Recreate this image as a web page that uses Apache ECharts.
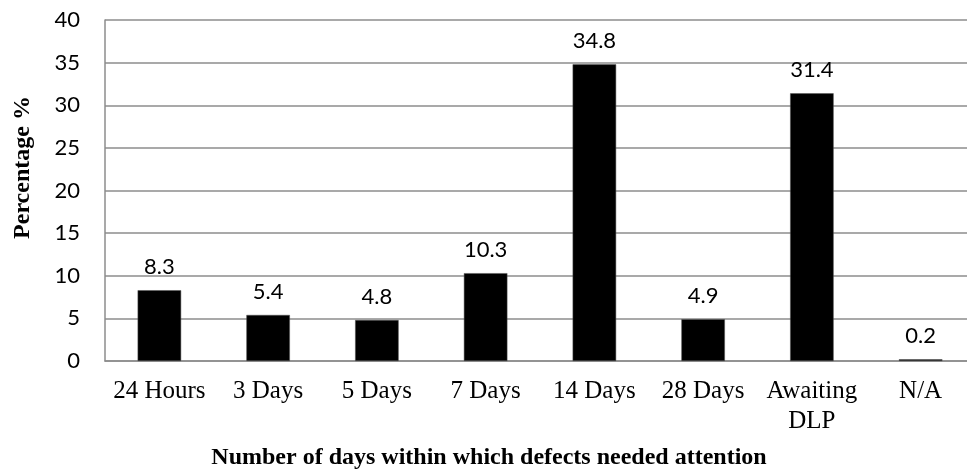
<!DOCTYPE html>
<html><head><meta charset="utf-8">
<script src="https://cdn.jsdelivr.net/npm/echarts@6/dist/echarts.min.js"></script>
<style>html,body{margin:0;padding:0;background:#fff}#c{width:967px;height:473px}</style>
</head><body><div id="c"></div>
<script>
const categories = ['24 Hours','3 Days','5 Days','7 Days','14 Days','28 Days','Awaiting\nDLP','N/A'];
const values = [8.3, 5.4, 4.8, 10.3, 34.8, 4.9, 31.4, 0.2];
const yTicks = [0, 5, 10, 15, 20, 25, 30, 35, 40];
const chart = echarts.init(document.getElementById('c'), null, {renderer:'canvas'});
chart.setOption({
  animation:false,
  grid:{left:105, right:-8, top:20, bottom:112, containLabel:false, outerBoundsMode:'none'},
  xAxis:{
    type:'category', data:categories,
    name:'Number of days within which defects needed attention',
    nameLocation:'middle', nameGap:85,
    nameTextStyle:{fontFamily:'Liberation Serif', fontWeight:'bold', fontSize:24, color:'#000', padding:[0,102,0,0]},
    axisLine:{lineStyle:{color:'#8c8c8c', width:1.5}},
    axisTick:{show:false},
    axisLabel:{fontFamily:'Liberation Serif', fontSize:25, color:'#000', margin:15, lineHeight:30, interval:0}
  },
  yAxis:{
    type:'value', min:yTicks[0], max:yTicks[yTicks.length-1], interval:5,
    name:'Percentage %', nameLocation:'middle', nameGap:70,
    nameTextStyle:{fontFamily:'Liberation Serif', fontWeight:'bold', fontSize:24, color:'#000', padding:[0,0,0,46]},
    axisLine:{show:true, lineStyle:{color:'#8c8c8c', width:1.5}},
    axisTick:{show:false},
    axisLabel:{fontFamily:'Lato', fontSize:22, color:'#000', margin:25},
    splitLine:{lineStyle:{color:'#8c8c8c', width:1.5}}
  },
  series:[{
    type:'bar', data:values, barCategoryGap:'60%',
    itemStyle:{color:'#000', borderColor:'#555', borderWidth:0.5},
    label:{show:true, position:'top', distance:12, fontFamily:'Lato', fontSize:22, color:'#000'}
  }]
});
</script></body></html>
